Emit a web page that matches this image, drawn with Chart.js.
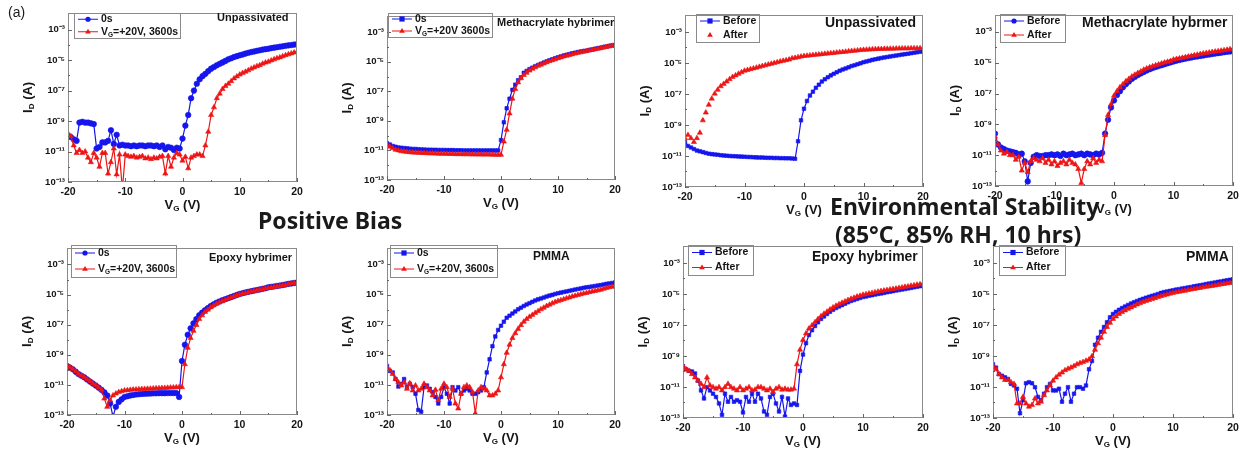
<!DOCTYPE html>
<html>
<head>
<meta charset="utf-8">
<script src="https://cdn.jsdelivr.net/npm/chart.js@4.4.1/dist/chart.umd.min.js"></script>
<style>
  body { margin: 0; background: #fff; width: 1250px; height: 464px; position: relative; overflow: hidden; }
  canvas.pnl { position: absolute; }
  .hd { position: absolute; font-family: "Noto Sans", "Open Sans", sans-serif; font-weight: 700; color: #1a1a1a; white-space: nowrap; line-height: 1; z-index: 5; }
</style>
</head>
<body>
<div class="hd" style="left:8px;top:5px;font-family:'Liberation Sans',Arial,sans-serif;font-weight:400;font-size:14px">(a)</div>
<div class="hd" style="left:258px;top:209px;font-size:23px">Positive Bias</div>
<div class="hd" style="left:830px;top:195px;font-size:23px">Environmental Stability</div>
<div class="hd" style="left:835px;top:223px;font-size:23px">(85°C, 85% RH, 10 hrs)</div>

<script>
// gate voltage sweep (V)
const VG = [
  -20,-19.5,-19,-18.5,-18,-17.5,-17,-16.5,-16,-15.5,
  -15,-14.5,-14,-13.5,-13,-12.5,-12,-11.5,-11,-10.5,
  -10,-9.5,-9,-8.5,-8,-7.5,-7,-6.5,-6,-5.5,
  -5,-4.5,-4,-3.5,-3,-2.5,-2,-1.5,-1,-0.5,
  0,0.5,1,1.5,2,2.5,3,3.5,4,4.5,
  5,5.5,6,6.5,7,7.5,8,8.5,9,9.5,
  10,10.5,11,11.5,12,12.5,13,13.5,14,14.5,
  15,15.5,16,16.5,17,17.5,18,18.5,19,19.5,
  20
];

// drain current as log10(I_D / A)
// positive bias: unpassivated
const biasUnpass0s = [
  -10.0,-10.05,-10.2,-10.3,-9.1,-9.05,-9.1,-9.1,-9.15,-9.2,
  -10.8,-10.7,-10.4,-10.4,-10.3,-9.6,-10.5,-9.9,-10.6,-10.55,
  -10.6,-10.6,-10.65,-10.6,-10.65,-10.6,-10.6,-10.65,-10.6,-10.6,
  -10.65,-10.6,-10.7,-10.6,-10.85,-10.7,-10.75,-10.9,-10.75,-10.8,
  -10.15,-9.3,-8.6,-7.5,-7.0,-6.55,-6.26,-6.05,-5.9,-5.72,
  -5.56,-5.45,-5.34,-5.24,-5.15,-5.05,-4.95,-4.88,-4.8,-4.74,
  -4.68,-4.63,-4.57,-4.52,-4.47,-4.43,-4.39,-4.35,-4.31,-4.28,
  -4.25,-4.21,-4.18,-4.15,-4.12,-4.09,-4.06,-4.03,-4.01,-3.98,
  -3.96
];
const biasUnpass3600s = [
  -9.8,-10.0,-10.6,-11.1,-10.9,-11.1,-11.0,-11.4,-11.7,-11.1,
  -11.4,-12.0,-11.1,-11.1,-12.45,-11.7,-10.8,-12.5,-11.2,-13.5,
  -11.2,-11.3,-11.35,-11.3,-11.4,-11.35,-11.3,-11.45,-11.4,-11.5,
  -11.4,-11.45,-11.35,-11.3,-12.45,-11.3,-12.0,-11.4,-11.1,-11.2,
  -11.6,-11.35,-12.1,-11.4,-11.3,-11.2,-11.2,-11.3,-10.6,-9.7,
  -8.6,-8.1,-7.5,-7.2,-6.9,-6.7,-6.55,-6.38,-6.2,-6.07,
  -5.95,-5.85,-5.76,-5.67,-5.56,-5.48,-5.4,-5.33,-5.23,-5.16,
  -5.1,-5.02,-4.95,-4.88,-4.82,-4.75,-4.68,-4.62,-4.56,-4.5,
  -4.47
];
// positive bias: methacrylate hybrimer
const biasMeth0s = [
  -10.5,-10.6,-10.7,-10.75,-10.8,-10.82,-10.84,-10.86,-10.88,-10.9,
  -10.9,-10.92,-10.93,-10.94,-10.95,-10.95,-10.96,-10.96,-10.97,-10.97,
  -10.97,-10.98,-10.98,-10.98,-10.99,-10.99,-10.99,-11.0,-11.0,-11.0,
  -11.0,-11.0,-11.0,-11.0,-11.0,-11.0,-11.0,-11.0,-11.0,-11.0,
  -10.3,-9.1,-8.15,-7.5,-6.9,-6.55,-6.25,-6.05,-5.75,-5.62,
  -5.5,-5.4,-5.3,-5.22,-5.14,-5.06,-4.98,-4.9,-4.83,-4.76,
  -4.7,-4.64,-4.58,-4.53,-4.48,-4.43,-4.39,-4.35,-4.31,-4.28,
  -4.25,-4.21,-4.17,-4.13,-4.09,-4.05,-4.01,-3.97,-3.93,-3.9,
  -3.87
];
const biasMeth3600s = [
  -10.6,-10.75,-10.85,-10.95,-11.0,-11.05,-11.08,-11.1,-11.12,-11.14,
  -11.15,-11.16,-11.17,-11.18,-11.19,-11.2,-11.2,-11.21,-11.22,-11.22,
  -11.23,-11.23,-11.24,-11.24,-11.25,-11.25,-11.25,-11.26,-11.26,-11.26,
  -11.27,-11.27,-11.27,-11.28,-11.28,-11.28,-11.28,-11.29,-11.29,-11.3,
  -11.3,-10.4,-9.6,-8.5,-7.5,-6.85,-6.4,-6.12,-5.9,-5.75,
  -5.6,-5.48,-5.38,-5.28,-5.2,-5.12,-5.04,-4.96,-4.9,-4.84,
  -4.77,-4.71,-4.65,-4.6,-4.55,-4.5,-4.45,-4.4,-4.36,-4.32,
  -4.28,-4.24,-4.2,-4.16,-4.12,-4.08,-4.04,-4.0,-3.96,-3.92,
  -3.88
];
// environmental: unpassivated
const envUnpassBefore = [
  -10.05,-10.35,-10.45,-10.55,-10.65,-10.7,-10.75,-10.8,-10.85,-10.88,
  -10.9,-10.92,-10.95,-10.97,-10.98,-11.0,-11.01,-11.02,-11.03,-11.04,
  -11.05,-11.06,-11.07,-11.08,-11.09,-11.1,-11.1,-11.11,-11.12,-11.12,
  -11.13,-11.13,-11.14,-11.14,-11.15,-11.15,-11.16,-11.18,-10.05,-8.7,
  -7.95,-7.45,-7.1,-6.85,-6.6,-6.4,-6.2,-6.05,-5.92,-5.8,
  -5.7,-5.6,-5.5,-5.42,-5.35,-5.28,-5.2,-5.14,-5.08,-5.02,
  -4.95,-4.9,-4.85,-4.8,-4.76,-4.72,-4.68,-4.64,-4.61,-4.58,
  -4.55,-4.52,-4.49,-4.46,-4.43,-4.4,-4.37,-4.34,-4.31,-4.28,
  -4.25
];
const envUnpassAfter = [
  -9.85,-9.65,-9.85,-10.1,-9.85,-9.5,-8.7,-8.2,-7.7,-7.3,
  -6.98,-6.73,-6.5,-6.35,-6.2,-6.05,-5.9,-5.8,-5.7,-5.6,
  -5.5,-5.45,-5.4,-5.35,-5.3,-5.25,-5.2,-5.15,-5.1,-5.05,
  -5.0,-4.95,-4.9,-4.86,-4.82,-4.78,-4.7,-4.67,-4.63,-4.59,
  -4.55,-4.53,-4.51,-4.49,-4.47,-4.45,-4.43,-4.41,-4.39,-4.37,
  -4.35,-4.33,-4.31,-4.29,-4.27,-4.25,-4.23,-4.21,-4.19,-4.17,
  -4.15,-4.14,-4.13,-4.12,-4.11,-4.1,-4.1,-4.09,-4.09,-4.08,
  -4.08,-4.07,-4.07,-4.06,-4.06,-4.06,-4.05,-4.05,-4.05,-4.05,
  -4.05
];
// environmental: methacrylate hybrimer
const envMethBefore = [
  -9.6,-10.3,-10.5,-10.6,-10.7,-10.75,-10.8,-10.85,-10.95,-10.9,
  -11.4,-12.7,-11.5,-11.1,-11.0,-11.05,-11.05,-11.0,-11.0,-10.95,
  -11.0,-10.95,-11.05,-10.9,-11.0,-10.95,-10.9,-11.0,-10.95,-10.9,
  -11.0,-10.9,-10.95,-11.0,-10.9,-10.95,-10.85,-9.6,-8.7,-7.9,
  -7.45,-7.1,-6.85,-6.6,-6.4,-6.22,-6.05,-5.92,-5.8,-5.7,
  -5.6,-5.5,-5.42,-5.35,-5.28,-5.22,-5.16,-5.1,-5.04,-4.98,
  -4.92,-4.87,-4.82,-4.78,-4.74,-4.7,-4.66,-4.62,-4.59,-4.56,
  -4.53,-4.5,-4.47,-4.44,-4.41,-4.38,-4.35,-4.32,-4.29,-4.27,
  -4.25
];
const envMethAfter = [
  -9.8,-10.3,-10.7,-10.9,-10.8,-11.0,-11.0,-11.3,-11.1,-12.0,
  -11.5,-12.1,-11.4,-11.2,-11.3,-11.4,-11.2,-11.5,-11.3,-11.6,
  -11.4,-11.7,-11.5,-11.4,-11.6,-11.3,-11.5,-11.6,-11.9,-12.8,
  -11.9,-11.4,-11.6,-11.2,-11.5,-11.3,-11.4,-9.7,-8.4,-7.7,
  -7.15,-6.85,-6.6,-6.4,-6.2,-6.05,-5.9,-5.78,-5.67,-5.57,
  -5.45,-5.37,-5.3,-5.23,-5.17,-5.11,-5.05,-4.99,-4.94,-4.89,
  -4.8,-4.76,-4.72,-4.68,-4.64,-4.6,-4.56,-4.52,-4.48,-4.44,
  -4.4,-4.37,-4.34,-4.31,-4.28,-4.25,-4.22,-4.19,-4.16,-4.13,
  -4.1
];
// positive bias: epoxy hybrimer
const biasEpoxy0s = [
  -9.74,-9.85,-9.96,-10.12,-10.28,-10.39,-10.5,-10.64,-10.78,-10.91,
  -11.04,-11.18,-11.33,-11.5,-11.7,-12.24,-13.1,-12.46,-12.13,-11.96,
  -11.8,-11.75,-11.7,-11.67,-11.64,-11.62,-11.6,-11.59,-11.58,-11.57,
  -11.56,-11.56,-11.55,-11.55,-11.55,-11.54,-11.54,-11.54,-11.54,-11.8,
  -9.41,-8.33,-7.67,-7.24,-6.91,-6.63,-6.37,-6.2,-6.04,-5.9,
  -5.76,-5.65,-5.54,-5.46,-5.38,-5.31,-5.24,-5.17,-5.1,-5.03,
  -4.96,-4.91,-4.86,-4.82,-4.78,-4.74,-4.7,-4.66,-4.62,-4.58,
  -4.52,-4.49,-4.46,-4.43,-4.4,-4.37,-4.33,-4.29,-4.26,-4.23,
  -4.2
];
const biasEpoxy3600s = [
  -9.7,-9.83,-9.95,-10.1,-10.26,-10.38,-10.5,-10.63,-10.76,-10.9,
  -11.02,-11.17,-11.33,-11.91,-12.46,-12.02,-11.7,-11.58,-11.48,-11.42,
  -11.37,-11.35,-11.33,-11.31,-11.3,-11.29,-11.28,-11.27,-11.26,-11.25,
  -11.24,-11.23,-11.22,-11.21,-11.2,-11.19,-11.18,-11.17,-11.16,-11.15,
  -11.15,-9.63,-8.54,-7.89,-7.41,-7.02,-6.63,-6.38,-6.15,-6.0,
  -5.85,-5.72,-5.61,-5.52,-5.44,-5.36,-5.28,-5.21,-5.13,-5.06,
  -5.0,-4.95,-4.9,-4.85,-4.8,-4.76,-4.72,-4.68,-4.64,-4.6,
  -4.57,-4.53,-4.5,-4.46,-4.43,-4.39,-4.36,-4.3,-4.26,-4.23,
  -4.2
];
// positive bias: PMMA
const biasPmma0s = [
  -9.74,-10.07,-10.17,-10.61,-11.11,-10.93,-10.61,-11.15,-10.93,-11.15,
  -11.59,-12.67,-12.78,-11.15,-11.04,-11.26,-11.48,-11.8,-12.24,-11.8,
  -11.15,-11.59,-12.24,-11.15,-11.37,-11.15,-11.59,-11.37,-11.26,-11.37,
  -11.59,-11.59,-11.48,-11.37,-11.15,-10.17,-9.3,-8.43,-7.78,-7.35,
  -7.07,-6.8,-6.54,-6.4,-6.26,-6.12,-5.98,-5.87,-5.76,-5.66,
  -5.57,-5.48,-5.39,-5.32,-5.26,-5.2,-5.13,-5.07,-5.02,-4.96,
  -4.91,-4.87,-4.83,-4.79,-4.75,-4.71,-4.67,-4.63,-4.59,-4.55,
  -4.52,-4.49,-4.46,-4.43,-4.4,-4.37,-4.33,-4.29,-4.26,-4.23,
  -4.2
];
const biasPmma3600s = [
  -9.85,-10.02,-10.28,-10.61,-10.83,-11.04,-10.83,-11.26,-10.89,-11.37,
  -11.04,-11.37,-11.26,-10.93,-11.15,-11.37,-11.7,-11.33,-12.02,-11.26,
  -10.93,-11.15,-11.8,-11.26,-12.24,-12.57,-11.59,-11.15,-11.04,-11.15,
  -11.48,-12.9,-11.37,-11.15,-11.26,-11.37,-11.7,-11.7,-11.59,-11.37,
  -10.5,-9.63,-8.87,-8.33,-7.89,-7.57,-7.28,-7.03,-6.8,-6.63,
  -6.48,-6.35,-6.22,-6.1,-5.98,-5.87,-5.76,-5.67,-5.58,-5.5,
  -5.43,-5.37,-5.31,-5.25,-5.19,-5.13,-5.08,-5.03,-4.98,-4.93,
  -4.89,-4.84,-4.8,-4.76,-4.72,-4.68,-4.62,-4.56,-4.51,-4.48,
  -4.46
];
// environmental: epoxy hybrimer
const envEpoxyBefore = [
  -9.65,-9.86,-9.96,-10.0,-10.13,-10.59,-11.22,-11.74,-11.01,-11.22,
  -11.43,-11.64,-12.06,-12.79,-11.43,-11.95,-11.64,-11.95,-11.85,-11.95,
  -12.64,-11.64,-11.95,-11.43,-11.95,-11.43,-11.74,-12.58,-12.79,-11.64,
  -11.43,-12.06,-12.58,-11.64,-12.9,-11.74,-12.16,-12.06,-12.16,-9.96,
  -8.91,-8.18,-7.65,-7.34,-7.07,-6.83,-6.61,-6.45,-6.29,-6.15,
  -6.02,-5.91,-5.81,-5.72,-5.63,-5.54,-5.45,-5.39,-5.32,-5.26,
  -5.2,-5.16,-5.12,-5.08,-5.04,-5.0,-4.97,-4.93,-4.89,-4.86,
  -4.82,-4.78,-4.75,-4.71,-4.68,-4.64,-4.61,-4.57,-4.54,-4.5,
  -4.47
];
const envEpoxyAfter = [
  -9.65,-9.86,-9.96,-10.17,-10.38,-10.59,-10.8,-11.01,-10.38,-10.9,
  -11.01,-11.11,-11.01,-11.22,-11.01,-10.8,-11.01,-11.11,-11.22,-11.01,
  -11.22,-11.11,-11.01,-11.22,-11.17,-11.01,-11.01,-11.11,-11.22,-11.11,
  -11.32,-11.11,-11.01,-11.17,-11.11,-11.17,-11.17,-11.11,-9.54,-8.6,
  -7.97,-7.55,-7.23,-7.03,-6.82,-6.62,-6.44,-6.28,-6.14,-6.0,
  -5.87,-5.76,-5.66,-5.57,-5.48,-5.39,-5.31,-5.24,-5.17,-5.11,
  -5.05,-5.01,-4.97,-4.93,-4.89,-4.85,-4.81,-4.78,-4.75,-4.71,
  -4.68,-4.65,-4.61,-4.58,-4.54,-4.51,-4.47,-4.44,-4.4,-4.37,
  -4.34
];
// environmental: PMMA
const envPmmaBefore = [
  -9.54,-9.75,-10.17,-10.27,-10.38,-10.48,-10.8,-10.9,-11.11,-12.69,
  -11.85,-10.76,-10.69,-10.76,-11.01,-11.64,-11.85,-11.43,-11.01,-10.8,
  -11.22,-11.22,-11.11,-11.95,-11.43,-11.01,-11.95,-11.43,-11.01,-11.01,
  -11.11,-10.9,-9.86,-9.33,-8.28,-7.82,-7.44,-7.13,-6.82,-6.5,
  -6.29,-6.15,-6.02,-5.91,-5.81,-5.71,-5.62,-5.53,-5.45,-5.38,
  -5.31,-5.24,-5.18,-5.12,-5.06,-5.0,-4.93,-4.88,-4.84,-4.8,
  -4.76,-4.72,-4.69,-4.65,-4.62,-4.58,-4.55,-4.51,-4.47,-4.44,
  -4.4,-4.36,-4.33,-4.29,-4.26,-4.22,-4.19,-4.15,-4.12,-4.08,
  -4.05
];
const envPmmaAfter = [
  -9.65,-9.86,-10.17,-10.38,-10.55,-10.55,-10.69,-10.8,-12.06,-12.06,
  -11.64,-12.06,-12.27,-12.16,-11.74,-12.06,-11.95,-11.53,-11.22,-10.9,
  -10.59,-10.38,-10.21,-10.07,-9.92,-9.83,-9.75,-9.65,-9.54,-9.46,
  -9.39,-9.31,-9.23,-9.02,-8.6,-8.18,-7.82,-7.44,-7.13,-6.86,
  -6.61,-6.45,-6.29,-6.17,-6.06,-5.96,-5.87,-5.77,-5.68,-5.6,
  -5.52,-5.45,-5.39,-5.33,-5.27,-5.2,-5.14,-5.09,-5.04,-4.98,
  -4.93,-4.89,-4.86,-4.82,-4.79,-4.75,-4.71,-4.68,-4.64,-4.61,
  -4.57,-4.54,-4.51,-4.48,-4.45,-4.42,-4.38,-4.35,-4.32,-4.29,
  -4.26
];

const xTickValues = [-20, -10, 0, 10, 20];
const xTickLabels = ['-20', '-10', '0', '10', '20'];
const yTickValues = [1e-13, 1e-11, 1e-9, 1e-7, 1e-5, 1e-3];
const yTickLabels = ['10⁻¹³', '10⁻¹¹', '10⁻⁹', '10⁻⁷', '10⁻⁵', '10⁻³'];

const biasLabels = ['0s', 'V_{G}=+20V, 3600s'];
const envLabels = ['Before', 'After'];

const BLUE = '#1515ee';
const RED = '#ee1515';
const FONT = '"Liberation Sans", Arial, sans-serif';
const PAD_L = 62, PAD_T = 6, PAD_R = 14, PAD_B = 46;
const Y_MAX = 1.3e-2;

// page layout of each panel: plot box [left, top, right, bottom], title, legend box
const panels = [
  { box: [68, 10, 297, 182], title: 'Unpassivated', tSize: 11, tPos: [217, 18], leg: [74, 13, 180, 38],
    labels: biasLabels, blue: biasUnpass0s, red: biasUnpass3600s, bStyle: 'circle' },
  { box: [387, 13, 615, 180], title: 'Methacrylate hybrimer', tSize: 11, tPos: [497, 23], leg: [388, 13, 492, 37],
    labels: ['0s', 'V_{G}=+20V 3600s'], blue: biasMeth0s, red: biasMeth3600s, bStyle: 'rect' },
  { box: [685, 12, 923, 187], title: 'Unpassivated', tSize: 14, tPos: [825, 23], leg: [696, 14, 759, 42],
    labels: envLabels, blue: envUnpassBefore, red: envUnpassAfter, bStyle: 'rect', redNoLine: true },
  { box: [995, 12, 1233, 186], title: 'Methacrylate hybrmer', tSize: 14, tPos: [1082, 23], leg: [1000, 14, 1065, 42],
    labels: envLabels, blue: envMethBefore, red: envMethAfter, bStyle: 'circle' },
  { box: [67, 245, 297, 415], title: 'Epoxy hybrimer', tSize: 11, tPos: [209, 258], leg: [71, 245, 176, 277],
    labels: biasLabels, blue: biasEpoxy0s, red: biasEpoxy3600s, bStyle: 'circle' },
  { box: [387, 245, 615, 415], title: 'PMMA', tSize: 12, tPos: [533, 257], leg: [390, 245, 497, 277],
    labels: biasLabels, blue: biasPmma0s, red: biasPmma3600s, bStyle: 'rect' },
  { box: [683, 243, 923, 418], title: 'Epoxy hybrimer', tSize: 14, tPos: [812, 257], leg: [688, 245, 753, 275],
    labels: envLabels, blue: envEpoxyBefore, red: envEpoxyAfter, bStyle: 'rect' },
  { box: [993, 243, 1233, 418], title: 'PMMA', tSize: 14, tPos: [1186, 257], leg: [999, 245, 1065, 275],
    labels: envLabels, blue: envPmmaBefore, red: envPmmaAfter, bStyle: 'rect' },
];

// text with _{subscript} parts
function rich(ctx, str, x, y, size, align) {
  const parts = [];
  str.split(/(_\{[^}]*\})/).forEach(s => {
    if (!s) return;
    if (s.startsWith('_{')) parts.push({ t: s.slice(2, -1), sub: true });
    else parts.push({ t: s, sub: false });
  });
  const f = p => `bold ${p.sub ? size * 0.62 : size}px ${FONT}`;
  let w = 0;
  parts.forEach(p => { ctx.font = f(p); p.w = ctx.measureText(p.t).width; w += p.w; });
  let cx = align === 'center' ? x - w / 2 : x;
  ctx.textAlign = 'left';
  ctx.textBaseline = 'middle';
  parts.forEach(p => { ctx.font = f(p); ctx.fillText(p.t, cx, p.sub ? y + size * 0.32 : y); cx += p.w; });
}

function marker(ctx, style, x, y, r) {
  ctx.beginPath();
  if (style === 'rect') ctx.rect(x - r, y - r, 2 * r, 2 * r);
  else if (style === 'triangle') {
    ctx.moveTo(x, y - r * 1.2); ctx.lineTo(x + r * 1.1, y + r * 0.7); ctx.lineTo(x - r * 1.1, y + r * 0.7); ctx.closePath();
  } else ctx.arc(x, y, r, 0, Math.PI * 2);
  ctx.fill();
}

// frame, inward ticks, axis titles, panel title and legend
const deco = {
  id: 'deco',
  afterDraw(chart, args, o) {
    const { ctx, chartArea: a, scales: { x, y } } = chart;
    const p = o.panel, ox = o.ox, oy = o.oy;
    ctx.save();
    ctx.strokeStyle = '#8a8a8a';
    ctx.lineWidth = 1;
    ctx.strokeRect(Math.round(a.left) + 0.5, Math.round(a.top) + 0.5, Math.round(a.width) - 1, Math.round(a.height) - 1);

    ctx.strokeStyle = '#666';
    ctx.beginPath();
    for (let e = -13; e <= -3; e++) {
      const py = Math.round(y.getPixelForValue(Math.pow(10, e))) + 0.5;
      const len = e % 2 ? 4 : 2;
      ctx.moveTo(a.left, py); ctx.lineTo(a.left + len, py);
    }
    for (let v = -20; v <= 20; v += 5) {
      const px = Math.round(x.getPixelForValue(v)) + 0.5;
      const len = v % 10 === 0 ? 4 : 2;
      ctx.moveTo(px, a.bottom); ctx.lineTo(px, a.bottom - len);
    }
    ctx.stroke();

    ctx.fillStyle = '#151515';
    rich(ctx, 'V_{G} (V)', (a.left + a.right) / 2, a.bottom + 23, 13, 'center');
    ctx.save();
    ctx.translate(a.left - 40, (a.top + a.bottom) / 2);
    ctx.rotate(-Math.PI / 2);
    rich(ctx, 'I_{D} (A)', 0, 0, 13, 'center');
    ctx.restore();

    ctx.font = `bold ${p.tSize}px ${FONT}`;
    ctx.textAlign = 'left';
    ctx.textBaseline = 'middle';
    ctx.fillText(p.title, p.tPos[0] - ox, p.tPos[1] - oy);

    const [lx0, ly0, lx1, ly1] = [p.leg[0] - ox, p.leg[1] - oy, p.leg[2] - ox, p.leg[3] - oy];
    ctx.strokeStyle = '#8a8a8a';
    ctx.strokeRect(Math.round(lx0) + 0.5, Math.round(ly0) + 0.5, Math.round(lx1 - lx0), Math.round(ly1 - ly0));
    const items = [
      { c: BLUE, s: p.bStyle, line: true },
      { c: RED, s: 'triangle', line: !p.redNoLine },
    ];
    items.forEach((it, k) => {
      const cy = ly0 + (ly1 - ly0) * (2 * k + 1) / 4;
      ctx.strokeStyle = it.c;
      ctx.fillStyle = it.c;
      if (it.line) { ctx.beginPath(); ctx.moveTo(lx0 + 4, cy); ctx.lineTo(lx0 + 24, cy); ctx.stroke(); }
      marker(ctx, it.s, lx0 + 14, cy, 2.6);
      ctx.fillStyle = '#151515';
      rich(ctx, p.labels[k], lx0 + 27, cy, 10.5, 'left');
    });
    ctx.restore();
  }
};

const toPoints = arr => arr.map((lg, i) => ({ x: VG[i], y: Math.pow(10, lg) }));

panels.forEach(p => {
  const [l, t, r, b] = p.box;
  const ox = l - PAD_L, oy = t - PAD_T;
  const cv = document.createElement('canvas');
  cv.className = 'pnl';
  cv.width = r - l + PAD_L + PAD_R;
  cv.height = b - t + PAD_T + PAD_B;
  cv.style.left = ox + 'px';
  cv.style.top = oy + 'px';
  cv.style.width = cv.width + 'px';
  cv.style.height = cv.height + 'px';
  document.body.appendChild(cv);

  new Chart(cv.getContext('2d'), {
    type: 'line',
    data: {
      datasets: [
        { data: toPoints(p.red), borderColor: RED, backgroundColor: RED, borderWidth: 1.2,
          showLine: !p.redNoLine, pointStyle: 'triangle', pointRadius: 3, pointBorderWidth: 0.6, tension: 0 },
        { data: toPoints(p.blue), borderColor: BLUE, backgroundColor: BLUE, borderWidth: 1.2,
          pointStyle: p.bStyle, pointRadius: p.bStyle === 'rect' ? 2.5 : 2.8, pointBorderWidth: 0.6, tension: 0 },
      ]
    },
    options: {
      responsive: false,
      animation: false,
      devicePixelRatio: 1,
      layout: { padding: { left: 0, top: PAD_T, right: PAD_R, bottom: 0 } },
      plugins: { legend: { display: false }, tooltip: { enabled: false }, deco: { panel: p, ox, oy } },
      scales: {
        x: {
          type: 'linear', min: -20, max: 20,
          afterFit: s => { s.height = PAD_B; },
          afterBuildTicks: s => { s.ticks = xTickValues.map(v => ({ value: v })); },
          grid: { display: false, drawTicks: false },
          border: { display: false },
          ticks: { callback: (v, i) => xTickLabels[i], color: '#151515', padding: 4, maxRotation: 0, autoSkip: false,
                   font: { family: FONT, size: 10.5, weight: 'bold' } }
        },
        y: {
          type: 'logarithmic', min: 1e-13, max: Y_MAX,
          afterFit: s => { s.width = PAD_L; },
          afterBuildTicks: s => { s.ticks = yTickValues.map(v => ({ value: v })); },
          grid: { display: false, drawTicks: false },
          border: { display: false },
          ticks: { callback: (v, i) => yTickLabels[i], color: '#151515', padding: 3, autoSkip: false,
                   font: { family: FONT, size: 9.5, weight: 'bold' } }
        }
      }
    },
    plugins: [deco]
  });
});
</script>
</body>
</html>
